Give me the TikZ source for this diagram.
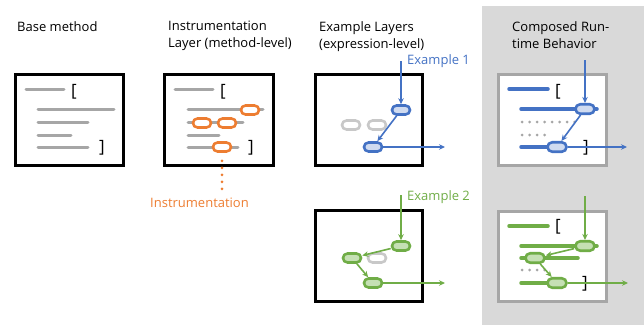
\documentclass[tikz,border=0pt]{standalone}
\usepackage{fontspec}
\setmainfont{Open Sans}
\usetikzlibrary{arrows.meta}

\definecolor{layerblue}{HTML}{4472C4}
\definecolor{layerbluefill}{HTML}{D0DBF0}
\definecolor{layergreen}{HTML}{70AD47}
\definecolor{layergreenfill}{HTML}{C5E0B4}
\definecolor{instrorange}{HTML}{ED7D31}
\definecolor{codegray}{HTML}{A6A6A6}
\definecolor{pillgray}{HTML}{C8C8C8}
\definecolor{panelgray}{HTML}{D9D9D9}

\tikzset{
  codeline/.style={line width=3pt, line cap=round, draw=codegray},
  boldline/.style={line width=3.5pt, line cap=round},
  dotrow/.style={line width=3pt, line cap=round, draw=codegray, dash pattern=on 0pt off 7.5pt},
  pill/.style={draw, fill=white, rounded corners=4.5pt, minimum width=18pt,
    minimum height=9pt, inner sep=0pt, line width=2.6pt},
  bigpill/.style={pill, rounded corners=4.75pt, minimum width=19pt, minimum height=9.5pt},
  flow/.style={line width=1.6pt, -{Stealth[length=6pt,width=5.5pt]}},
  frame/.style={draw=black, line width=3pt},
  innerframe/.style={draw=codegray, fill=white, line width=3pt},
  heading/.style={anchor=north west, align=left, inner sep=0pt,
    font=\fontsize{13}{17}\selectfont},
  tag/.style={anchor=base west, inner sep=0pt, font=\fontsize{13}{17}\selectfont},
  bracket/.style={inner sep=0pt, font=\fontsize{17}{17}\selectfont}
}

\begin{document}
\begin{tikzpicture}[x=1pt,y=-1pt]
\useasboundingbox (0,0) rectangle (644,327);

% composed panel background
\fill[panelgray] (482,6) rectangle (644,325);

% column headings
\node[heading] (hbase) at (17,21) {Base method};
\node[heading] (hinstr) at (168,21) {Instrumentation\\Layer (method-level)};
\node[heading] (hex) at (319,21) {Example Layers\\(expression-level)};
\node[heading] (hcomp) at (512,21) {Composed Run-\\time Behavior};

% ---------- base method ----------
\draw[frame] (15.5,74.5) rectangle (123.5,165.5);
\draw[codeline] (26,89) -- (64,89);
\draw[codeline] (38,109) -- (114,109);
\draw[codeline] (38,122) -- (88,122);
\draw[codeline] (38,135) -- (71,135);
\draw[codeline] (38,147) -- (88,147);
\node[bracket] (bopen) at (74,92) {[};
\node[bracket] (bclose) at (102,148) {]};

% ---------- instrumentation layer ----------
\draw[frame] (164.5,74.5) rectangle (273.5,165.5);
\draw[codeline] (175,89) -- (213,89);
\draw[codeline] (188,109) -- (263,109);
\draw[codeline] (188,122) -- (243,122);
\draw[codeline] (188,135) -- (219,135);
\draw[codeline] (188,147) -- (238,147);
\node[bracket] (iopen) at (223,92) {[};
\node[bracket] (iclose) at (251,148) {]};
\node[pill, draw=instrorange] (ia) at (250,110) {};
\node[pill, draw=instrorange] (ib) at (202,123) {};
\node[pill, draw=instrorange] (ic) at (227,123) {};
\node[pill, draw=instrorange] (id) at (222,147) {};
\node[tag, text=instrorange] (instr) at (150,207) {Instrumentation};
\coordinate (idend) at (222,190);
\draw[line width=3pt, line cap=round, draw=instrorange, dash pattern=on 0pt off 7pt]
  (id.south) ++(0,8) -- (idend);

% ---------- example layer 1 ----------
\draw[frame] (315.5,74.5) rectangle (422.5,165.5);
\node[tag, text=layerblue] (ex1) at (407,64) {Example 1};
\node[pill, draw=pillgray] (g1) at (351,125) {};
\node[pill, draw=pillgray] (g2) at (377,125) {};
\node[pill, draw=layerblue, fill=layerbluefill] (e1a) at (401,110) {};
\node[pill, draw=layerblue, fill=layerbluefill] (e1b) at (373,147) {};
\coordinate (e1in) at (401,61);
\coordinate (e1out) at (445,147);
\draw[flow, layerblue] (e1in) -- (e1a);
\draw[flow, layerblue] (e1a) -- (e1b);
\draw[flow, layerblue] (e1b) -- (e1out);

% ---------- example layer 2 ----------
\draw[frame] (315.5,210.5) rectangle (422.5,301.5);
\node[tag, text=layergreen] (ex2) at (407,200) {Example 2};
\node[pill, draw=pillgray] (g3) at (377,258) {};
\node[pill, draw=layergreen, fill=layergreenfill] (e2a) at (401,246) {};
\node[pill, draw=layergreen, fill=layergreenfill] (e2b) at (352,258) {};
\node[pill, draw=layergreen, fill=layergreenfill] (e2c) at (373,283) {};
\coordinate (e2in) at (401,195);
\coordinate (e2out) at (445,283);
\draw[flow, layergreen] (e2in) -- (e2a);
\draw[flow, layergreen] (e2a) -- (e2b);
\draw[flow, layergreen] (e2b) -- (e2c);
\draw[flow, layergreen] (e2c) -- (e2out);

% ---------- composed: example 1 ----------
\draw[innerframe] (498.5,74.5) rectangle (606.5,165.5);
\draw[boldline, layerblue] (509,89) -- (548,89);
\draw[boldline, layerblue] (521,109) -- (597,109);
\draw[dotrow] (522,122) -- (577,122);
\draw[dotrow] (522,135) -- (552,135);
\draw[boldline, layerblue] (521,147) -- (557,147);
\node[bracket] (c1open) at (558,92) {[};
\node[bracket] (c1close) at (586,148) {]};
\node[bigpill, draw=layerblue, fill=layerbluefill] (c1a) at (585,109) {};
\node[bigpill, draw=layerblue, fill=layerbluefill] (c1b) at (557,147) {};
\coordinate (c1in) at (585,60);
\coordinate (c1out) at (627,147);
\draw[flow, layerblue] (c1in) -- (c1a);
\draw[flow, layerblue] (c1a) -- (c1b);
\draw[flow, layerblue] (c1b) -- (c1out);

% ---------- composed: example 2 ----------
\draw[innerframe] (498.5,211.5) rectangle (606.5,301.5);
\draw[boldline, layergreen] (509,226) -- (548,226);
\draw[boldline, layergreen] (521,246) -- (597,246);
\draw[boldline, layergreen] (521,258) -- (578,258);
\draw[dotrow] (522,270) -- (552,270);
\draw[boldline, layergreen] (521,283) -- (557,283);
\node[bracket] (c2open) at (558,227) {[};
\node[bracket] (c2close) at (585,284) {]};
\node[bigpill, draw=layergreen, fill=layergreenfill] (c2a) at (585,246) {};
\node[bigpill, draw=layergreen, fill=layergreenfill] (c2b) at (535,258) {};
\node[bigpill, draw=layergreen, fill=layergreenfill] (c2c) at (557,283) {};
\coordinate (c2in) at (585,196);
\coordinate (c2out) at (628,283);
\draw[flow, layergreen] (c2in) -- (c2a);
\draw[flow, layergreen] (c2a) -- (c2b);
\draw[flow, layergreen] (c2b) -- (c2c);
\draw[flow, layergreen] (c2c) -- (c2out);
\end{tikzpicture}
\end{document}
